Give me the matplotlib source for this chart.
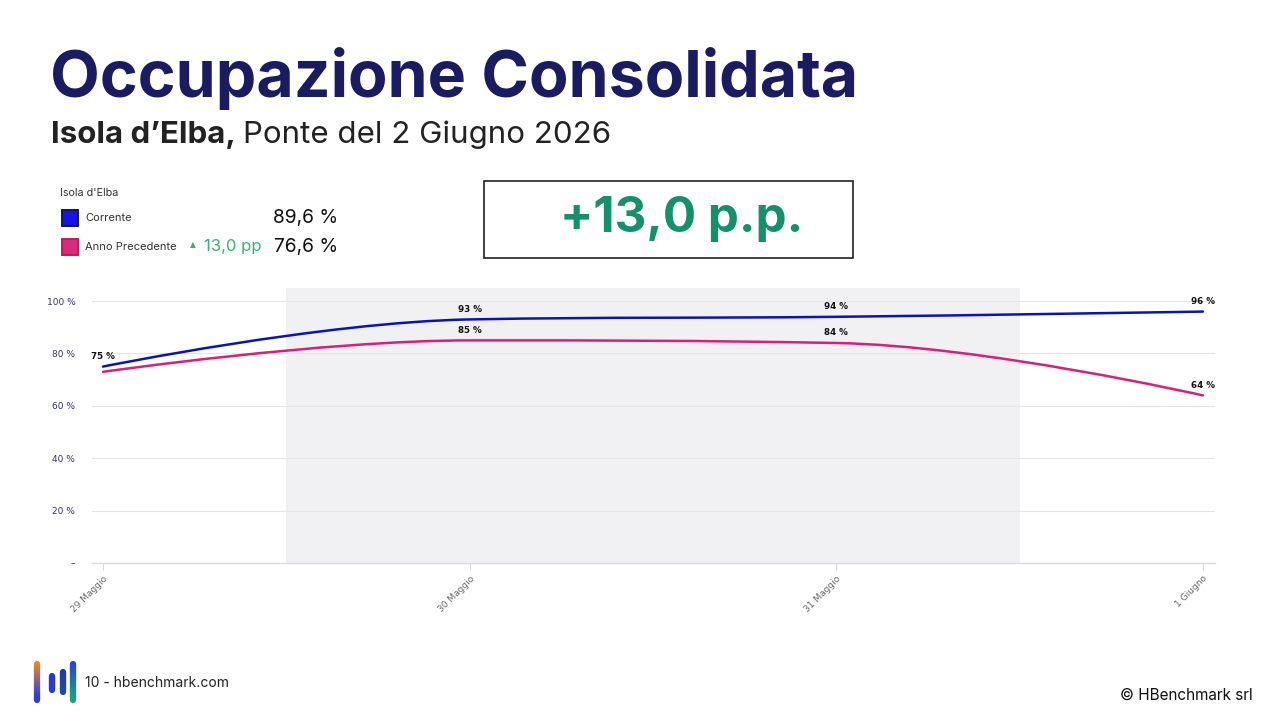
import matplotlib
matplotlib.use("Agg")
import matplotlib.pyplot as plt
from matplotlib.path import Path
from matplotlib.patches import PathPatch, Rectangle
import numpy as np

# data
days = ["29 Maggio", "30 Maggio", "31 Maggio", "1 Giugno"]
corrente = [75, 93, 94, 96]
precedente = [73, 85, 84, 64]
corrente_labels = ["75 %", "93 %", "94 %", "96 %"]
precedente_labels = [None, "85 %", "84 %", "64 %"]
yticks = [0, 20, 40, 60, 80, 100]
ytick_labels = ["–", "20 %", "40 %", "60 %", "80 %", "100 %"]
highlight = (0.5, 2.5)

NAVY = "#1b1b62"
BLUE = "#0b12b8"
PINK = "#d81f7c"
GREEN_BIG = "#14906b"
GREEN = "#3bb273"

W, H = 1280, 720


def px(x, y):
    return x / W, 1 - y / H


def spline_path(xs, ys, smoothing=1.5):
    # highcharts-style spline, built as cubic bezier path
    n = len(xs)
    denom = smoothing + 1
    lc, rc = {}, {}
    for i in range(1, n - 1):
        x, y = xs[i], ys[i]
        lx, ly = xs[i - 1], ys[i - 1]
        nx, ny = xs[i + 1], ys[i + 1]
        lcx = (smoothing * x + lx) / denom
        lcy = (smoothing * y + ly) / denom
        rcx = (smoothing * x + nx) / denom
        rcy = (smoothing * y + ny) / denom
        corr = (rcy - lcy) * (rcx - x) / (rcx - lcx) + y - rcy
        lcy += corr
        rcy += corr
        if lcy > ly and lcy > y:
            lcy = max(ly, y)
            rcy = 2 * y - lcy
        elif lcy < ly and lcy < y:
            lcy = min(ly, y)
            rcy = 2 * y - lcy
        if rcy > ny and rcy > y:
            rcy = max(ny, y)
            lcy = 2 * y - rcy
        elif rcy < ny and rcy < y:
            rcy = min(ny, y)
            lcy = 2 * y - rcy
        lc[i] = (lcx, lcy)
        rc[i] = (rcx, rcy)
    verts = [(xs[0], ys[0])]
    codes = [Path.MOVETO]
    for i in range(1, n):
        c1 = rc.get(i - 1, (xs[i - 1], ys[i - 1]))
        c2 = lc.get(i, (xs[i], ys[i]))
        verts += [c1, c2, (xs[i], ys[i])]
        codes += [Path.CURVE4] * 3
    return Path(verts, codes)


plt.rcParams["font.family"] = ["Inter", "DejaVu Sans"]
fig = plt.figure(figsize=(12.8, 7.2), dpi=100)

# titles
fig.text(*px(50, 78), "Occupazione Consolidata", fontsize=46.5, fontweight="bold",
         color=NAVY, va="center", ha="left")
t = fig.text(*px(51, 135), "Isola d’Elba,", fontsize=22.5, fontweight="bold",
             color="#222222", va="center", ha="left")
fig.canvas.draw()
bb = t.get_window_extent()
fig.text((bb.x1 + 7) / W, 1 - 135 / H, "Ponte del 2 Giugno 2026", fontsize=22.5,
         color="#222222", va="center", ha="left")

# legend block
fig.text(*px(60, 193), "Isola d'Elba", fontsize=7.8, color="#333333", va="center")
fig.patches.append(Rectangle(px(62, 226), 16 / W, 16 / H, transform=fig.transFigure,
                             facecolor="#1414e6", edgecolor="#14145a", lw=1.4))
fig.patches.append(Rectangle(px(62, 255), 16 / W, 16 / H, transform=fig.transFigure,
                             facecolor="#d62c7c", edgecolor="#c2185b", lw=1.4))
fig.text(*px(85, 218), "Corrente", fontsize=8, color="#333333", va="center")
fig.text(*px(85, 247), "Anno Precedente", fontsize=8, color="#333333", va="center")
fig.text(*px(338, 218), "89,6 %", fontsize=13.8, color="#111111", va="center", ha="right")
fig.text(*px(338, 247), "76,6 %", fontsize=13.8, color="#111111", va="center", ha="right")
fig.text(*px(262, 247), "13,0 pp", fontsize=12, color=GREEN, va="center", ha="right")
fig.text(*px(193, 245), "▲", fontsize=5.5, color=GREEN, va="center", ha="center",
         family=["DejaVu Sans"])

# delta box
fig.patches.append(Rectangle(px(484, 258), 369 / W, 77 / H, transform=fig.transFigure,
                             facecolor="white", edgecolor="#222222", lw=1.2))
fig.text(*px(682, 219), "+13,0 p.p.", fontsize=35.5, fontweight="bold", color=GREEN_BIG,
         va="center", ha="center")

# chart
ax = fig.add_axes([92 / W, 1 - 563 / H, (1215 - 92) / W, (563 - 288) / H])
x = np.arange(len(days))
ax.set_xlim(-0.03, 3.033)
ax.set_ylim(0, 105)
ax.axvspan(*highlight, color="#f1f1f4", zorder=0, lw=0)
for v in yticks[1:]:
    ax.axhline(v, color="#e6e6e6", lw=0.8, zorder=1)
for s in ["top", "right", "left"]:
    ax.spines[s].set_visible(False)
ax.spines["bottom"].set_color("#d8dbe6")
ax.spines["bottom"].set_linewidth(1)

ax.add_patch(PathPatch(spline_path(x, precedente), facecolor="none", edgecolor=PINK,
                       lw=1.8, zorder=3, capstyle="round"))
ax.add_patch(PathPatch(spline_path(x, corrente), facecolor="none", edgecolor=BLUE,
                       lw=1.8, zorder=4, capstyle="round"))

for xi, v, lab in zip(x, corrente, corrente_labels):
    ax.annotate(lab, (xi, v), xytext=(0, 4), textcoords="offset points",
                ha="center", va="bottom", fontsize=6.3, fontweight="bold",
                color="#111111", family=["DejaVu Sans"], zorder=5)
for xi, v, lab in zip(x, precedente, precedente_labels):
    if lab:
        ax.annotate(lab, (xi, v), xytext=(0, 4), textcoords="offset points",
                    ha="center", va="bottom", fontsize=6.3, fontweight="bold",
                    color="#111111", family=["DejaVu Sans"], zorder=5)

ax.set_yticks(yticks)
ax.set_yticklabels(ytick_labels, fontsize=6.5, color="#33335a", family=["DejaVu Sans"])
ax.tick_params(axis="y", length=0, pad=12)
ax.set_xticks(x)
ax.set_xticklabels(days, rotation=45, ha="right", rotation_mode="anchor",
                   fontsize=6.5, color="#666666", family=["DejaVu Sans"])
ax.tick_params(axis="x", length=5, color="#d8dbe6", pad=3)

# footer logo
def grad_bar(xp, y0, y1, c0, c1, width=4.5):
    ys = np.linspace(y0, y1, 30)
    cols = np.linspace(matplotlib.colors.to_rgb(c0), matplotlib.colors.to_rgb(c1), 29)
    for i in range(29):
        fig.add_artist(plt.Line2D([xp / W, xp / W], [1 - ys[i] / H, 1 - ys[i + 1] / H],
                                  color=cols[i], lw=width, solid_capstyle="round"))

grad_bar(37, 664, 700, "#f08a2c", "#2b3fd6")
grad_bar(52, 676, 690, "#2a3ad8", "#2a3ad8")
grad_bar(63, 672, 692, "#1c3aa8", "#1f4aa0")
grad_bar(73, 664, 700, "#2b3fd6", "#1aa27a")
fig.text(*px(85, 683), "10 - hbenchmark.com", fontsize=10, color="#222222", va="center")
fig.text(*px(1253, 695), "© HBenchmark srl", fontsize=11, color="#111111",
         va="center", ha="right")

fig.savefig("out.png", dpi=100, facecolor="white")
